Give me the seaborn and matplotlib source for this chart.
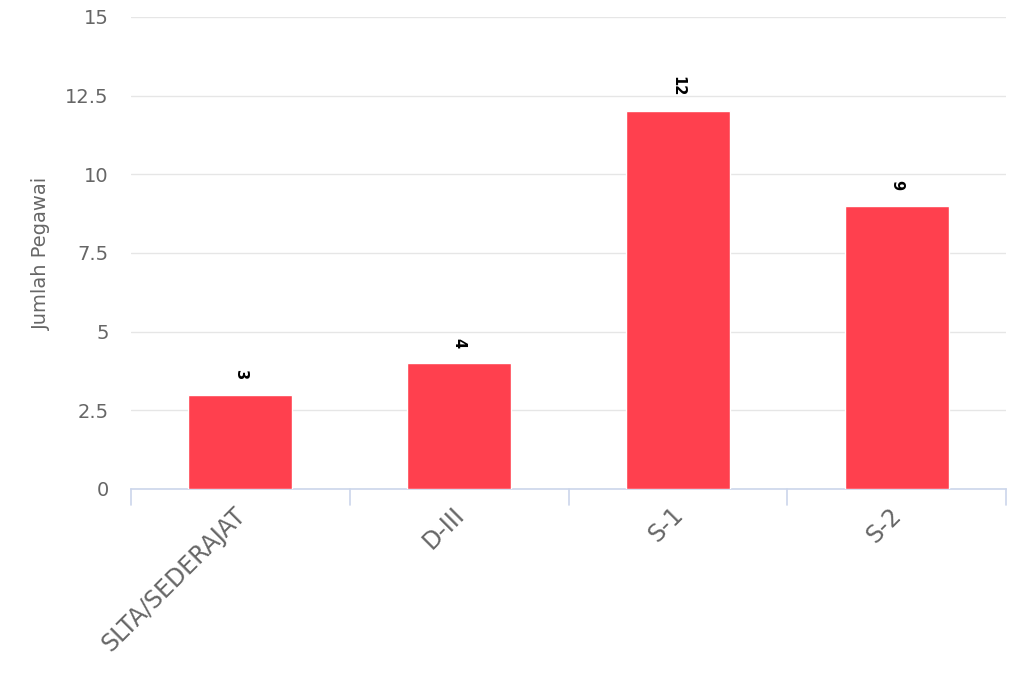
import matplotlib
matplotlib.use("Agg")
import matplotlib.pyplot as plt
import matplotlib.transforms as mtransforms
import seaborn as sns
import pandas as pd

categories = ["SLTA/SEDERAJAT", "D-III", "S-1", "S-2"]
values = [3, 4, 12, 9]
y_ticks = [0, 2.5, 5, 7.5, 10, 12.5, 15]
y_tick_labels = ["0", "2.5", "5", "7.5", "10", "12.5", "15"]

sns.set_theme(style="white")
plt.rcParams["font.family"] = ["DejaVu Sans"]

df = pd.DataFrame({"cat": categories, "val": values})

fig = plt.figure(figsize=(10.24, 6.83), dpi=100)
ax = fig.add_axes([131/1024, 1-489/683, 875/1024, 472/683])

sns.barplot(data=df, x="cat", y="val", color="#FF404E", width=0.475,
            saturation=1, ax=ax, zorder=3)

ax.set_xlim(-0.5, len(categories) - 0.5)
ax.set_ylim(0, 15)
ax.set_yticks(y_ticks)
ax.set_yticklabels(y_tick_labels)
ax.yaxis.grid(True, color="#e6e6e6", linewidth=1, zorder=0)
ax.xaxis.grid(False)

for s in ["top", "right", "left"]:
    ax.spines[s].set_visible(False)
ax.spines["bottom"].set_color("#ccd6eb")
ax.spines["bottom"].set_linewidth(1.2)

ax.tick_params(axis="y", length=0, pad=16, labelsize=14, labelcolor="#666666")
ax.tick_params(axis="x", length=0, labelsize=17, labelcolor="#666666", pad=10)
ax.set_xticks(range(len(categories)))
ax.set_xticklabels(categories, rotation=45, ha="right", rotation_mode="anchor")
shift = mtransforms.ScaledTranslation(-7/100, 0, fig.dpi_scale_trans)
for lbl in ax.get_xticklabels():
    lbl.set_transform(lbl.get_transform() + shift)

# category boundary ticks
for b in [i - 0.5 for i in range(len(categories) + 1)]:
    ax.plot([b, b], [0, -0.5], color="#ccd6eb", lw=1.2, clip_on=False, zorder=2)

ax.set_xlabel("")
ax.set_ylabel("Jumlah Pegawai", fontsize=14, color="#666666", labelpad=10)

for i, v in enumerate(values):
    ax.annotate(str(v), (i, v), xytext=(0, 11), textcoords="offset points",
                rotation=-90, ha="center", va="bottom", fontsize=10.5,
                fontweight="bold", color="black")

fig.savefig("out.png", dpi=100)
